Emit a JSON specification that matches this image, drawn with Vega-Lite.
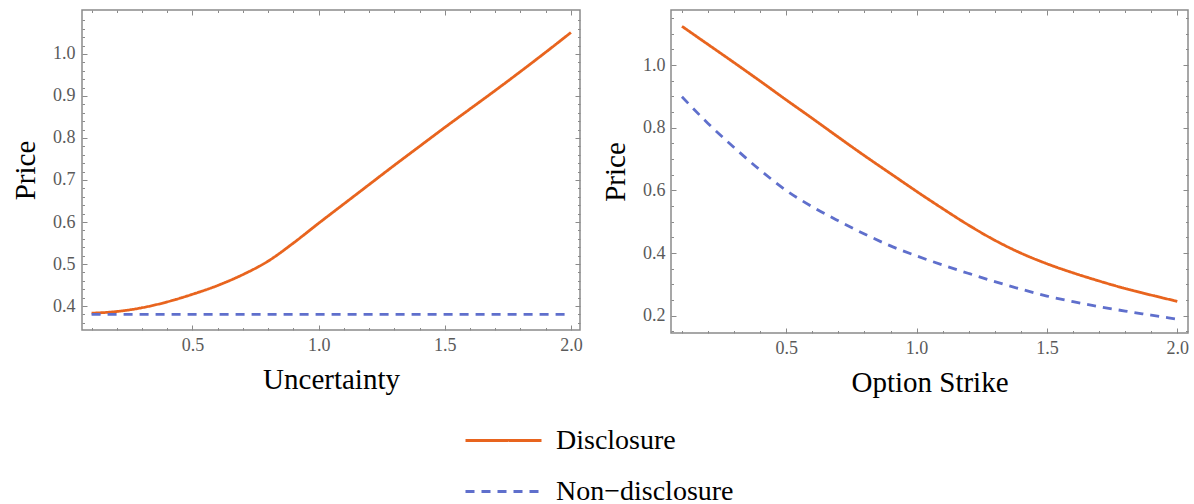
{
  "$schema": "https://vega.github.io/schema/vega-lite/v6.json",
  "autosize": {"type": "pad"},
  "padding": {"left": 10, "top": 8, "right": 4, "bottom": 0},
  "background": "white",
  "datasets": {
    "uncertainty": [
      {"x": 0.1, "price": 0.383, "series": "Disclosure"},
      {"x": 0.2, "price": 0.387, "series": "Disclosure"},
      {"x": 0.3, "price": 0.396, "series": "Disclosure"},
      {"x": 0.4, "price": 0.41, "series": "Disclosure"},
      {"x": 0.5, "price": 0.428, "series": "Disclosure"},
      {"x": 0.6, "price": 0.449, "series": "Disclosure"},
      {"x": 0.7, "price": 0.475, "series": "Disclosure"},
      {"x": 0.8, "price": 0.507, "series": "Disclosure"},
      {"x": 0.9, "price": 0.55, "series": "Disclosure"},
      {"x": 1.0, "price": 0.597, "series": "Disclosure"},
      {"x": 1.1, "price": 0.643, "series": "Disclosure"},
      {"x": 1.2, "price": 0.689, "series": "Disclosure"},
      {"x": 1.3, "price": 0.735, "series": "Disclosure"},
      {"x": 1.4, "price": 0.78, "series": "Disclosure"},
      {"x": 1.5, "price": 0.825, "series": "Disclosure"},
      {"x": 1.6, "price": 0.869, "series": "Disclosure"},
      {"x": 1.7, "price": 0.913, "series": "Disclosure"},
      {"x": 1.8, "price": 0.958, "series": "Disclosure"},
      {"x": 1.9, "price": 1.004, "series": "Disclosure"},
      {"x": 2.0, "price": 1.051, "series": "Disclosure"},
      {"x": 0.1, "price": 0.38, "series": "Non\u2212disclosure"},
      {"x": 0.2, "price": 0.38, "series": "Non\u2212disclosure"},
      {"x": 0.3, "price": 0.38, "series": "Non\u2212disclosure"},
      {"x": 0.4, "price": 0.38, "series": "Non\u2212disclosure"},
      {"x": 0.5, "price": 0.38, "series": "Non\u2212disclosure"},
      {"x": 0.6, "price": 0.38, "series": "Non\u2212disclosure"},
      {"x": 0.7, "price": 0.38, "series": "Non\u2212disclosure"},
      {"x": 0.8, "price": 0.38, "series": "Non\u2212disclosure"},
      {"x": 0.9, "price": 0.38, "series": "Non\u2212disclosure"},
      {"x": 1.0, "price": 0.38, "series": "Non\u2212disclosure"},
      {"x": 1.1, "price": 0.38, "series": "Non\u2212disclosure"},
      {"x": 1.2, "price": 0.38, "series": "Non\u2212disclosure"},
      {"x": 1.3, "price": 0.38, "series": "Non\u2212disclosure"},
      {"x": 1.4, "price": 0.38, "series": "Non\u2212disclosure"},
      {"x": 1.5, "price": 0.38, "series": "Non\u2212disclosure"},
      {"x": 1.6, "price": 0.38, "series": "Non\u2212disclosure"},
      {"x": 1.7, "price": 0.38, "series": "Non\u2212disclosure"},
      {"x": 1.8, "price": 0.38, "series": "Non\u2212disclosure"},
      {"x": 1.9, "price": 0.38, "series": "Non\u2212disclosure"},
      {"x": 2.0, "price": 0.38, "series": "Non\u2212disclosure"}
    ],
    "strike": [
      {"x": 0.1, "price": 1.124, "series": "Disclosure"},
      {"x": 0.2, "price": 1.066, "series": "Disclosure"},
      {"x": 0.3, "price": 1.008, "series": "Disclosure"},
      {"x": 0.4, "price": 0.949, "series": "Disclosure"},
      {"x": 0.5, "price": 0.889, "series": "Disclosure"},
      {"x": 0.6, "price": 0.83, "series": "Disclosure"},
      {"x": 0.7, "price": 0.77, "series": "Disclosure"},
      {"x": 0.8, "price": 0.711, "series": "Disclosure"},
      {"x": 0.9, "price": 0.654, "series": "Disclosure"},
      {"x": 1.0, "price": 0.597, "series": "Disclosure"},
      {"x": 1.1, "price": 0.542, "series": "Disclosure"},
      {"x": 1.2, "price": 0.489, "series": "Disclosure"},
      {"x": 1.3, "price": 0.441, "series": "Disclosure"},
      {"x": 1.4, "price": 0.4, "series": "Disclosure"},
      {"x": 1.5, "price": 0.366, "series": "Disclosure"},
      {"x": 1.6, "price": 0.337, "series": "Disclosure"},
      {"x": 1.7, "price": 0.311, "series": "Disclosure"},
      {"x": 1.8, "price": 0.287, "series": "Disclosure"},
      {"x": 1.9, "price": 0.266, "series": "Disclosure"},
      {"x": 2.0, "price": 0.246, "series": "Disclosure"},
      {"x": 0.1, "price": 0.899, "series": "Non\u2212disclosure"},
      {"x": 0.2, "price": 0.814, "series": "Non\u2212disclosure"},
      {"x": 0.3, "price": 0.737, "series": "Non\u2212disclosure"},
      {"x": 0.4, "price": 0.665, "series": "Non\u2212disclosure"},
      {"x": 0.5, "price": 0.6, "series": "Non\u2212disclosure"},
      {"x": 0.6, "price": 0.548, "series": "Non\u2212disclosure"},
      {"x": 0.7, "price": 0.503, "series": "Non\u2212disclosure"},
      {"x": 0.8, "price": 0.461, "series": "Non\u2212disclosure"},
      {"x": 0.9, "price": 0.423, "series": "Non\u2212disclosure"},
      {"x": 1.0, "price": 0.391, "series": "Non\u2212disclosure"},
      {"x": 1.1, "price": 0.362, "series": "Non\u2212disclosure"},
      {"x": 1.2, "price": 0.335, "series": "Non\u2212disclosure"},
      {"x": 1.3, "price": 0.309, "series": "Non\u2212disclosure"},
      {"x": 1.4, "price": 0.285, "series": "Non\u2212disclosure"},
      {"x": 1.5, "price": 0.263, "series": "Non\u2212disclosure"},
      {"x": 1.6, "price": 0.245, "series": "Non\u2212disclosure"},
      {"x": 1.7, "price": 0.229, "series": "Non\u2212disclosure"},
      {"x": 1.8, "price": 0.215, "series": "Non\u2212disclosure"},
      {"x": 1.9, "price": 0.202, "series": "Non\u2212disclosure"},
      {"x": 2.0, "price": 0.189, "series": "Non\u2212disclosure"}
    ]
  },
  "hconcat": [
    {
      "width": 498,
      "height": 320,
      "data": {"name": "uncertainty"},
      "layer": [
        {
          "mark": {"type": "line", "interpolate": "monotone", "strokeWidth": 2.8},
          "encoding": {
            "x": {"field": "x", "type": "quantitative",
              "scale": {"domain": [0.062, 2.036], "nice": false, "zero": false},
              "axis": {"orient": "bottom", "title": "Uncertainty",
                "values": [0.1,0.2,0.3,0.4,0.5,0.6,0.7,0.8,0.9,1.0,1.1,1.2,1.3,1.4,1.5,1.6,1.7,1.8,1.9,2.0],
                "labelExpr": "abs(datum.value*2 - round(datum.value*2)) < 0.001 ? format(datum.value, '.1f') : ''",
                "tickSize": {"condition": {"test": "abs(datum.value*2 - round(datum.value*2)) < 0.001", "value": -5}, "value": -2.5},
                "labelFont": "Liberation Serif", "labelPadding": 11, "titlePadding": 9}},
            "y": {"field": "price", "type": "quantitative",
              "scale": {"domain": [0.343, 1.1045], "nice": false, "zero": false},
              "axis": {"orient": "left", "title": "Price",
                "values": [0.36,0.38,0.4,0.42,0.44,0.46,0.48,0.5,0.52,0.54,0.56,0.58,0.6,0.62,0.64,0.66,0.68,0.7,0.72,0.74,0.76,0.78,0.8,0.82,0.84,0.86,0.88,0.9,0.92,0.94,0.96,0.98,1.0,1.02,1.04,1.06,1.08],
                "labelExpr": "abs(datum.value*10 - round(datum.value*10)) < 0.001 ? format(datum.value, '.1f') : ''",
                "tickSize": {"condition": {"test": "abs(datum.value*10 - round(datum.value*10)) < 0.001", "value": -5}, "value": -2.5},
                "labelFont": "Liberation Serif", "labelPadding": 12, "titlePadding": 12}},
            "color": {"field": "series", "type": "nominal",
              "scale": {"domain": ["Disclosure", "Non\u2212disclosure"], "range": ["#E8641E", "#5F6FCC"]},
              "legend": {"orient": "none", "legendX": 401, "legendY": 410, "title": null}},
            "strokeDash": {"field": "series", "type": "nominal",
              "scale": {"domain": ["Disclosure", "Non\u2212disclosure"], "range": [[1, 0], [9, 7]]},
              "legend": {"orient": "none", "legendX": 401, "legendY": 410, "title": null}}
          }
        },
        {
          "mark": {"type": "line", "opacity": 0},
          "encoding": {
            "x": {"field": "x", "type": "quantitative",
              "axis": {"orient": "top", "title": null, "labels": false,
                "values": [0.1,0.2,0.3,0.4,0.5,0.6,0.7,0.8,0.9,1.0,1.1,1.2,1.3,1.4,1.5,1.6,1.7,1.8,1.9,2.0],
                "tickSize": {"condition": {"test": "abs(datum.value*2 - round(datum.value*2)) < 0.001", "value": -5}, "value": -2.5}}},
            "y": {"field": "price", "type": "quantitative",
              "axis": {"orient": "right", "title": null, "labels": false,
                "values": [0.36,0.38,0.4,0.42,0.44,0.46,0.48,0.5,0.52,0.54,0.56,0.58,0.6,0.62,0.64,0.66,0.68,0.7,0.72,0.74,0.76,0.78,0.8,0.82,0.84,0.86,0.88,0.9,0.92,0.94,0.96,0.98,1.0,1.02,1.04,1.06,1.08],
                "tickSize": {"condition": {"test": "abs(datum.value*10 - round(datum.value*10)) < 0.001", "value": -5}, "value": -2.5}}}
          }
        }
      ],
      "resolve": {"axis": {"x": "independent", "y": "independent"}}
    },
    {
      "width": 517,
      "height": 323,
      "data": {"name": "strike"},
      "layer": [
        {
          "mark": {"type": "line", "interpolate": "monotone", "strokeWidth": 2.8},
          "encoding": {
            "x": {"field": "x", "type": "quantitative",
              "scale": {"domain": [0.058, 2.041], "nice": false, "zero": false},
              "axis": {"orient": "bottom", "title": "Option Strike",
                "values": [0.1,0.2,0.3,0.4,0.5,0.6,0.7,0.8,0.9,1.0,1.1,1.2,1.3,1.4,1.5,1.6,1.7,1.8,1.9,2.0],
                "labelExpr": "abs(datum.value*2 - round(datum.value*2)) < 0.001 ? format(datum.value, '.1f') : ''",
                "tickSize": {"condition": {"test": "abs(datum.value*2 - round(datum.value*2)) < 0.001", "value": -5}, "value": -2.5},
                "labelFont": "Liberation Serif", "labelPadding": 11, "titlePadding": 9}},
            "y": {"field": "price", "type": "quantitative",
              "scale": {"domain": [0.145, 1.176], "nice": false, "zero": false},
              "axis": {"orient": "left", "title": "Price",
                "values": [0.15,0.2,0.25,0.3,0.35,0.4,0.45,0.5,0.55,0.6,0.65,0.7,0.75,0.8,0.85,0.9,0.95,1.0,1.05,1.1,1.15],
                "labelExpr": "abs(datum.value*5 - round(datum.value*5)) < 0.001 ? format(datum.value, '.1f') : ''",
                "tickSize": {"condition": {"test": "abs(datum.value*5 - round(datum.value*5)) < 0.001", "value": -5}, "value": -2.5},
                "labelFont": "Liberation Serif", "labelPadding": 11, "titlePadding": 12}},
            "color": {"field": "series", "type": "nominal"},
            "strokeDash": {"field": "series", "type": "nominal"}
          }
        },
        {
          "mark": {"type": "line", "opacity": 0},
          "encoding": {
            "x": {"field": "x", "type": "quantitative",
              "axis": {"orient": "top", "title": null, "labels": false,
                "values": [0.1,0.2,0.3,0.4,0.5,0.6,0.7,0.8,0.9,1.0,1.1,1.2,1.3,1.4,1.5,1.6,1.7,1.8,1.9,2.0],
                "tickSize": {"condition": {"test": "abs(datum.value*2 - round(datum.value*2)) < 0.001", "value": -5}, "value": -2.5}}},
            "y": {"field": "price", "type": "quantitative",
              "axis": {"orient": "right", "title": null, "labels": false,
                "values": [0.15,0.2,0.25,0.3,0.35,0.4,0.45,0.5,0.55,0.6,0.65,0.7,0.75,0.8,0.85,0.9,0.95,1.0,1.05,1.1,1.15],
                "tickSize": {"condition": {"test": "abs(datum.value*5 - round(datum.value*5)) < 0.001", "value": -5}, "value": -2.5}}}
          }
        }
      ],
      "resolve": {"axis": {"x": "independent", "y": "independent"}}
    }
  ],
  "spacing": 17,
  "config": {
    "view": {"stroke": "#8a8a8a", "strokeWidth": 1.5},
    "axis": {
      "domain": false, "grid": false,
      "tickColor": "#8a8a8a", "tickWidth": 1,
      "labelFont": "Liberation Serif", "labelFontSize": 18, "labelColor": "#5a5a5a",
      "labelOverlap": false, "labelFlush": false,
      "titleFont": "Liberation Serif", "titleFontSize": 29, "titleFontWeight": "normal", "titleColor": "black"
    },
    "legend": {
      "symbolType": "M-2,0L2,0", "symbolSize": 1444, "symbolStrokeWidth": 3,
      "labelFont": "Liberation Serif", "labelFontSize": 28, "labelColor": "black",
      "labelLimit": 400,
      "labelOffset": 32, "rowPadding": 16, "padding": 0
    }
  }
}
